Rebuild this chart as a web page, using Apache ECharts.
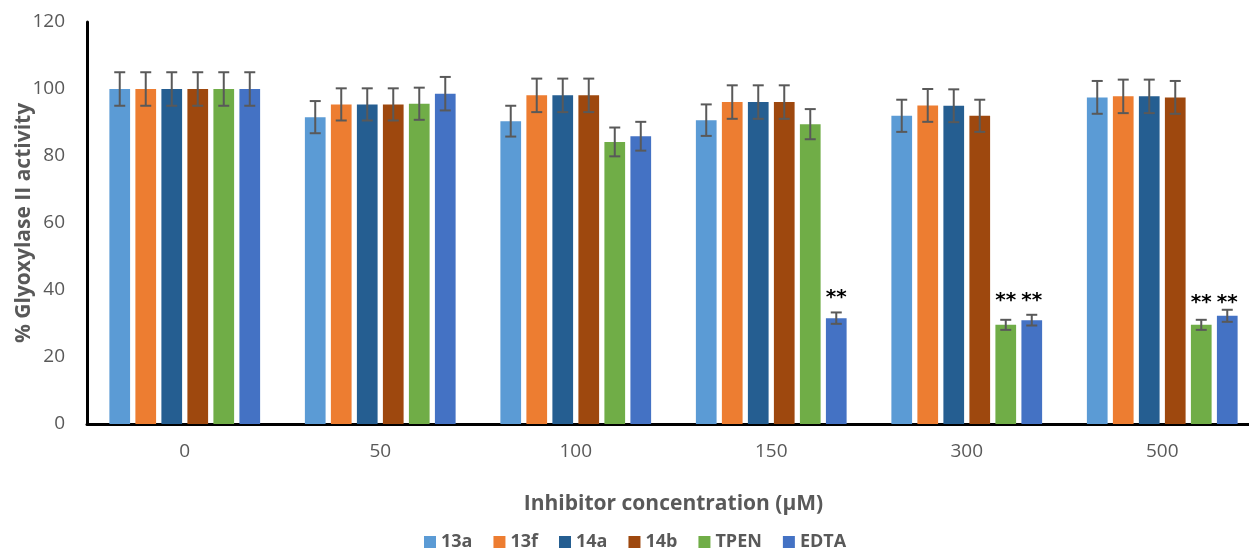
<!DOCTYPE html>
<html>
<head>
<meta charset="utf-8">
<script src="https://cdn.jsdelivr.net/npm/echarts@6/dist/echarts.min.js"></script>
<style>
  html, body { margin: 0; padding: 0; background: #fff; }
  #chart { width: 1249px; height: 548px; }
</style>
</head>
<body>
<div id="chart"></div>
<script>
const categories = ['0', '50', '100', '150', '300', '500'];
const seriesNames = ['13a', '13f', '14a', '14b', 'TPEN', 'EDTA'];
const colors = ['#5B9BD5', '#ED7D31', '#255E91', '#9E480E', '#70AD47', '#4472C4'];

const v13a = [100, 91.6, 90.4, 90.7, 92.0, 97.5];
const v13f = [100, 95.4, 98.1, 96.1, 95.1, 97.8];
const v14a = [100, 95.4, 98.1, 96.1, 95.0, 97.8];
const v14b = [100, 95.4, 98.1, 96.1, 92.0, 97.5];
const vTPEN = [100, 95.6, 84.2, 89.5, 29.6, 29.6];
const vEDTA = [100, 98.6, 85.9, 31.6, 31.0, 32.3];

const e13a = [5, 4.8, 4.6, 4.7, 4.8, 4.9];
const e13f = [5, 4.8, 5.0, 5.0, 4.9, 5.0];
const e14a = [5, 4.8, 5.0, 5.0, 4.9, 5.0];
const e14b = [5, 4.8, 5.0, 5.0, 4.8, 4.9];
const eTPEN = [5, 4.8, 4.3, 4.5, 1.5, 1.5];
const eEDTA = [5, 5.0, 4.3, 1.7, 1.6, 1.8];

// significance marks: [category index, series index, y position in data units]
const stars = [[3, 5, 37.8], [4, 4, 36.9], [4, 5, 36.9], [5, 4, 36.3], [5, 5, 36.3]];

const values = [v13a, v13f, v14a, v14b, vTPEN, vEDTA];
const errors = [e13a, e13f, e14a, e14b, eTPEN, eEDTA];

const CAT_GAP = 0.229;
const BAR_GAP = 0.256;
const N = seriesNames.length;
const FONT = '"Open Sans", sans-serif';

function barCenter(api, cat, s) {
  const c = api.coord([cat, 0]);
  const band = api.size([1, 0])[0];
  const bw = band * (1 - CAT_GAP) / (N + (N - 1) * BAR_GAP);
  const gap = bw * BAR_GAP;
  const start = c[0] - (N * bw + (N - 1) * gap) / 2;
  return start + s * (bw + gap) + bw / 2;
}

const errData = [];
values.forEach((arr, s) => {
  arr.forEach((v, i) => errData.push([i, v, errors[s][i], s]));
});

const chart = echarts.init(document.getElementById('chart'));

const barSeries = seriesNames.map((name, s) => ({
  name: name,
  type: 'bar',
  data: values[s],
  barGap: (BAR_GAP * 100) + '%',
  barCategoryGap: (CAT_GAP * 100) + '%',
  itemStyle: { color: colors[s] }
}));

chart.setOption({
  animation: false,
  color: colors,
  grid: { left: 87, right: -11, top: 22, bottom: 124, outerBoundsMode: 'none' },
  legend: {
    data: seriesNames,
    top: 528,
    left: 419,
    icon: 'rect',
    itemWidth: 12,
    itemHeight: 12,
    itemGap: 21,
    textStyle: { color: '#595959', fontSize: 18, fontWeight: 'bold', fontFamily: FONT }
  },
  xAxis: {
    type: 'category',
    data: categories,
    name: 'Inhibitor concentration (µM)',
    nameLocation: 'middle',
    nameGap: 70,
    nameMoveOverlap: false,
    nameTextStyle: { color: '#595959', fontSize: 21, fontWeight: 'bold', fontFamily: FONT },
    axisLine: { lineStyle: { color: '#000', width: 3 } },
    axisTick: { show: false },
    axisLabel: { color: '#595959', fontSize: 19, margin: 18, fontFamily: FONT }
  },
  yAxis: {
    type: 'value',
    min: 0,
    max: 120,
    interval: 20,
    name: '% Glyoxylase II activity',
    nameLocation: 'middle',
    nameGap: 52,
    nameMoveOverlap: false,
    nameTextStyle: { color: '#595959', fontSize: 21, fontWeight: 'bold', fontFamily: FONT },
    axisLine: { show: true, lineStyle: { color: '#000', width: 3 } },
    axisTick: { show: false },
    splitLine: { show: false },
    axisLabel: { color: '#595959', fontSize: 19, margin: 22, fontFamily: FONT }
  },
  series: barSeries.concat([
    {
      type: 'custom',
      z: 5,
      silent: true,
      data: errData,
      encode: { x: 0, y: 1 },
      renderItem: function (params, api) {
        const cat = api.value(0);
        const v = api.value(1);
        const e = api.value(2);
        const s = api.value(3);
        const x = barCenter(api, cat, s);
        const yTop = api.coord([cat, v + e])[1];
        const yBot = api.coord([cat, v - e])[1];
        const hw = 5.5;
        const style = { stroke: '#595959', lineWidth: 2 };
        return {
          type: 'group',
          children: [
            { type: 'line', shape: { x1: x, y1: yTop, x2: x, y2: yBot }, style: style },
            { type: 'line', shape: { x1: x - hw, y1: yTop, x2: x + hw, y2: yTop }, style: style },
            { type: 'line', shape: { x1: x - hw, y1: yBot, x2: x + hw, y2: yBot }, style: style }
          ]
        };
      }
    },
    {
      type: 'custom',
      z: 6,
      silent: true,
      data: stars,
      encode: { x: 0, y: 2 },
      renderItem: function (params, api) {
        const cat = api.value(0);
        const s = api.value(1);
        const x = barCenter(api, cat, s);
        const y = api.coord([cat, api.value(2)])[1];
        return {
          type: 'text',
          style: {
            x: x,
            y: y,
            text: '**',
            fill: '#000',
            font: 'bold 20px "DejaVu Sans", sans-serif',
            align: 'center',
            verticalAlign: 'middle'
          }
        };
      }
    }
  ])
});
</script>
</body>
</html>
